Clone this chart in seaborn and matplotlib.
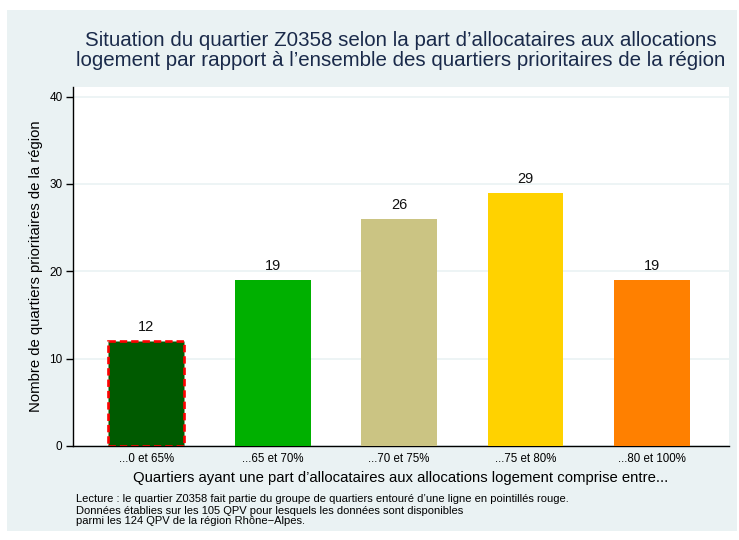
import matplotlib
matplotlib.use("Agg")
import matplotlib.pyplot as plt
import seaborn as sns
import pandas as pd
from matplotlib.patches import Rectangle

# data
categories = ["...0 et 65%", "...65 et 70%", "...70 et 75%", "...75 et 80%", "...80 et 100%"]
counts = [12, 19, 26, 29, 19]
bar_colors = ["#005a00", "#00b000", "#cbc483", "#ffd200", "#ff8000"]
highlight_index = 0

title_lines = [
    "Situation du quartier Z0358 selon la part d\u2019allocataires aux allocations",
    "logement par rapport \u00e0 l\u2019ensemble des quartiers prioritaires de la r\u00e9gion",
]
note_lines = [
    "Lecture : le quartier Z0358 fait partie du groupe de quartiers entour\u00e9 d\u2019une ligne en pointill\u00e9s rouge.",
    "Donn\u00e9es \u00e9tablies sur les 105 QPV pour lesquels les donn\u00e9es sont disponibles",
    "parmi les 124 QPV de la r\u00e9gion Rh\u00f4ne\u2212Alpes.",
]

sns.set_theme(style="white")
plt.rcParams["font.family"] = ["Liberation Sans", "DejaVu Sans"]

bg = "#eaf2f3"
navy = "#1a2a4a"

df = pd.DataFrame({"cat": categories, "n": counts})

fig = plt.figure(figsize=(7.39, 5.4), dpi=100)
fig.patch.set_facecolor("white")
fig.patches.append(Rectangle((7 / 739, 1 - 531 / 540), 730 / 739, 521 / 540,
                             transform=fig.transFigure, facecolor=bg, edgecolor="none", zorder=-10))

ax = fig.add_axes([73 / 739, 1 - 446 / 540, (729 - 73) / 739, (446 - 87) / 540])
ax.set_facecolor("white")

sns.barplot(data=df, x="cat", y="n", hue="cat", palette=bar_colors, legend=False,
            width=0.6, saturation=1, ax=ax, zorder=3)

for i, p in enumerate(ax.patches):
    p.set_edgecolor("none")
    if i == highlight_index:
        # dashed red outline around the group holding the quartier
        p.set_edgecolor("red")
        p.set_linestyle((0, (2.8, 1.5)))
        p.set_linewidth(1.9)

for c in ax.containers:
    ax.bar_label(c, padding=5, fontsize=10.5, color="#111111")

ax.set_xlim(-0.58, 4.61)
ax.set_ylim(0, 41.1)
ax.set_yticks([0, 10, 20, 30, 40])
ax.yaxis.grid(True, color=bg, linewidth=1.2, zorder=0)
ax.set_axisbelow(True)
for s in ["top", "right"]:
    ax.spines[s].set_visible(False)
for s in ["left", "bottom"]:
    ax.spines[s].set_color("black")
    ax.spines[s].set_linewidth(1)
ax.tick_params(axis="y", left=True, length=5, width=1, labelsize=8.5, pad=2.5, colors="black")
ax.tick_params(axis="x", bottom=False, length=0, labelsize=8.3, pad=5, colors="black")
ax.set_xlabel("")
ax.set_ylabel("Nombre de quartiers prioritaires de la r\u00e9gion", fontsize=10.7, color="black")
ax.yaxis.set_label_coords((43 - 73) / 656, 0.5)

fig.text(401 / 739, 1 - 46 / 540, title_lines[0], ha="center", va="baseline", fontsize=14.8, color=navy)
fig.text(401 / 739, 1 - 66 / 540, title_lines[1], ha="center", va="baseline", fontsize=14.8, color=navy)
fig.text(401 / 739, 1 - 478 / 540,
         "Quartiers ayant une part d\u2019allocataires aux allocations logement comprise entre...",
         ha="center", va="center", fontsize=10.7, color="black")

for k, line in enumerate(note_lines):
    fig.text(76 / 739, 1 - (502.5 + 11 * k) / 540, line, ha="left", va="baseline", fontsize=8, color="black")

fig.savefig("out.png", dpi=100, facecolor=fig.get_facecolor())
